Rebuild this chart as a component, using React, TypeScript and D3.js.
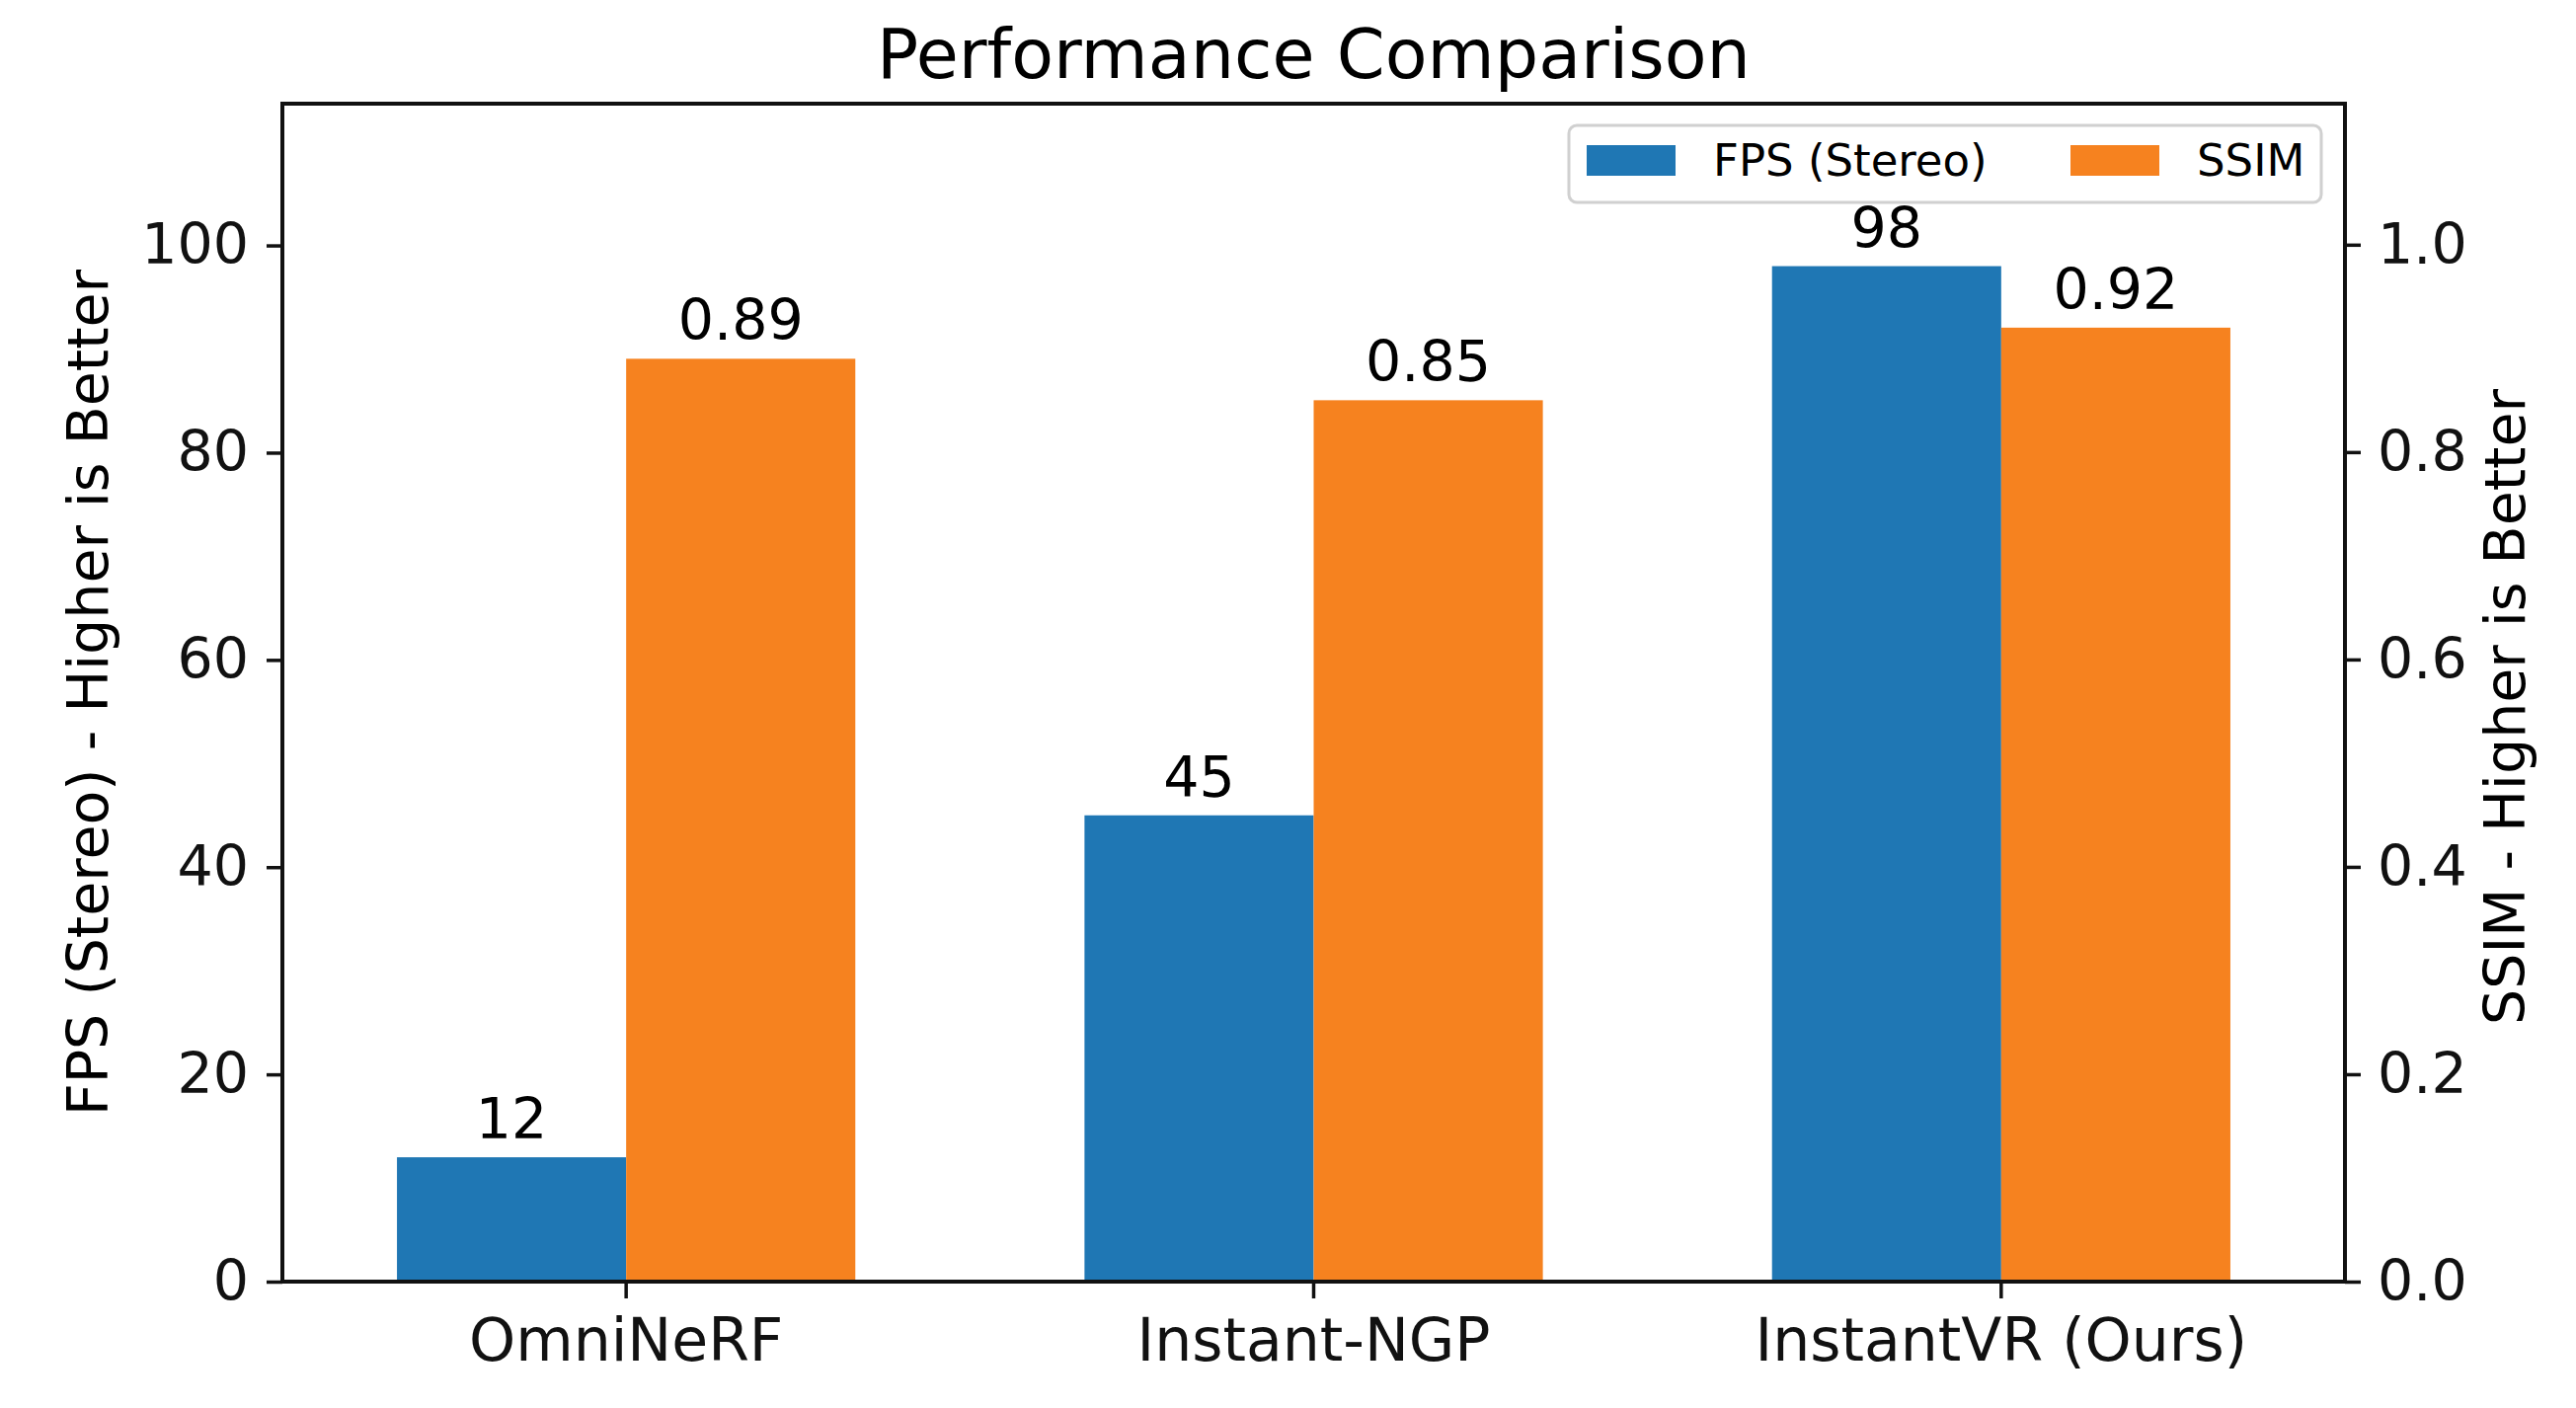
import React from "react";
import { select, scaleLinear, scaleBand, axisLeft, axisRight, axisBottom } from "d3";

const methods = ["OmniNeRF", "Instant-NGP", "InstantVR (Ours)"];
const fpsValues = [12, 45, 98];
const ssimValues = [0.89, 0.85, 0.92];
const fpsTicks = [0, 20, 40, 60, 80, 100];
const ssimTicks = [0, 0.2, 0.4, 0.6, 0.8, 1.0];
const seriesNames = ["FPS (Stereo)", "SSIM"];

const W = 2609;
const H = 1426;
const margin = { top: 105, right: 234, bottom: 128, left: 286 };
const BLUE = "#1f77b4";
const ORANGE = "#f6821f";
const FONT = "DejaVu Sans, sans-serif";

export default function App() {
  const svgRef = React.useRef<SVGSVGElement | null>(null);

  React.useEffect(() => {
    const svg = select(svgRef.current);
    svg.selectAll("*").remove();

    const x0 = margin.left;
    const x1 = W - margin.right;
    const y0 = H - margin.bottom;
    const y1 = margin.top;

    svg.append("rect").attr("width", W).attr("height", H).attr("fill", "#ffffff");

    const x = scaleBand<string>().domain(methods).range([x0, x1]).paddingInner(0).paddingOuter(0);
    const groupW = x.bandwidth();
    const barW = groupW / 3;

    const yFps = scaleLinear().domain([0, 98 * 1.16]).range([y0, y1]);
    const ySsim = scaleLinear().domain([0, 1.136]).range([y0, y1]);

    const g = svg.append("g");

    // FPS bars
    g.selectAll("rect.fps")
      .data(fpsValues)
      .join("rect")
      .attr("class", "fps")
      .attr("x", (_, i) => x(methods[i])! + groupW / 2 - barW)
      .attr("y", (d) => yFps(d))
      .attr("width", barW)
      .attr("height", (d) => y0 - yFps(d))
      .attr("fill", BLUE);

    // SSIM bars
    g.selectAll("rect.ssim")
      .data(ssimValues)
      .join("rect")
      .attr("class", "ssim")
      .attr("x", (_, i) => x(methods[i])! + groupW / 2)
      .attr("y", (d) => ySsim(d))
      .attr("width", barW)
      .attr("height", (d) => y0 - ySsim(d))
      .attr("fill", ORANGE);

    // bar labels
    g.selectAll("text.fpsLabel")
      .data(fpsValues)
      .join("text")
      .attr("class", "fpsLabel")
      .attr("x", (_, i) => x(methods[i])! + groupW / 2 - barW / 2)
      .attr("y", (d) => yFps(d) - 19)
      .attr("text-anchor", "middle")
      .style("font-family", FONT)
      .style("font-size", "57px")
      .text((d) => String(d));

    g.selectAll("text.ssimLabel")
      .data(ssimValues)
      .join("text")
      .attr("class", "ssimLabel")
      .attr("x", (_, i) => x(methods[i])! + groupW / 2 + barW / 2)
      .attr("y", (d) => ySsim(d) - 19)
      .attr("text-anchor", "middle")
      .style("font-family", FONT)
      .style("font-size", "57px")
      .text((d) => d.toFixed(2));

    // axes
    const styleAxis = (sel: any, size: string) => {
      sel.select(".domain").remove();
      sel.selectAll(".tick line").attr("stroke", "#111").attr("stroke-width", 3.5);
      sel
        .selectAll(".tick text")
        .style("font-family", FONT)
        .style("font-size", size)
        .attr("fill", "#111");
    };

    const left = svg
      .append("g")
      .attr("transform", `translate(${x0},0)`)
      .call(axisLeft(yFps).tickValues(fpsTicks).tickSize(16).tickPadding(18));
    styleAxis(left, "57px");

    const right = svg
      .append("g")
      .attr("transform", `translate(${x1},0)`)
      .call(
        axisRight(ySsim)
          .tickValues(ssimTicks)
          .tickSize(16)
          .tickPadding(17)
          .tickFormat((d) => (+d).toFixed(1))
      );
    styleAxis(right, "57px");

    const bottom = svg
      .append("g")
      .attr("transform", `translate(0,${y0})`)
      .call(axisBottom(x).tickSize(17).tickPadding(20));
    styleAxis(bottom, "60px");

    // frame
    svg
      .append("rect")
      .attr("x", x0)
      .attr("y", y1)
      .attr("width", x1 - x0)
      .attr("height", y0 - y1)
      .attr("fill", "none")
      .attr("stroke", "#111")
      .attr("stroke-width", 4);

    // title + axis labels
    svg
      .append("text")
      .attr("x", (x0 + x1) / 2)
      .attr("y", 79)
      .attr("text-anchor", "middle")
      .style("font-family", FONT)
      .style("font-size", "70px")
      .text("Performance Comparison");

    svg
      .append("text")
      .attr("transform", `translate(109,${(y0 + y1) / 2}) rotate(-90)`)
      .attr("text-anchor", "middle")
      .style("font-family", FONT)
      .style("font-size", "57px")
      .text("FPS (Stereo) - Higher is Better");

    svg
      .append("text")
      .attr("transform", `translate(2557,716) rotate(-90)`)
      .attr("text-anchor", "middle")
      .style("font-family", FONT)
      .style("font-size", "57px")
      .text("SSIM - Higher is Better");

    // legend
    const lg = svg.append("g").attr("transform", "translate(1589,127)");
    lg.append("rect")
      .attr("width", 762)
      .attr("height", 78)
      .attr("rx", 8)
      .attr("fill", "#fff")
      .attr("fill-opacity", 0.85)
      .attr("stroke", "#d0d0d0")
      .attr("stroke-width", 3);
    const items = lg
      .selectAll("g.item")
      .data(seriesNames)
      .join("g")
      .attr("class", "item")
      .attr("transform", (_, i) => `translate(${i === 0 ? 18 : 508},20)`);
    items
      .append("rect")
      .attr("width", 90)
      .attr("height", 31)
      .attr("fill", (_, i) => (i === 0 ? BLUE : ORANGE));
    items
      .append("text")
      .attr("x", 128)
      .attr("y", 31)
      .style("font-family", FONT)
      .style("font-size", "45px")
      .text((d) => d);
  }, []);

  return (
    <svg
      ref={svgRef}
      width={W}
      height={H}
      style={{ position: "absolute", left: 0, top: 0 }}
    />
  );
}
